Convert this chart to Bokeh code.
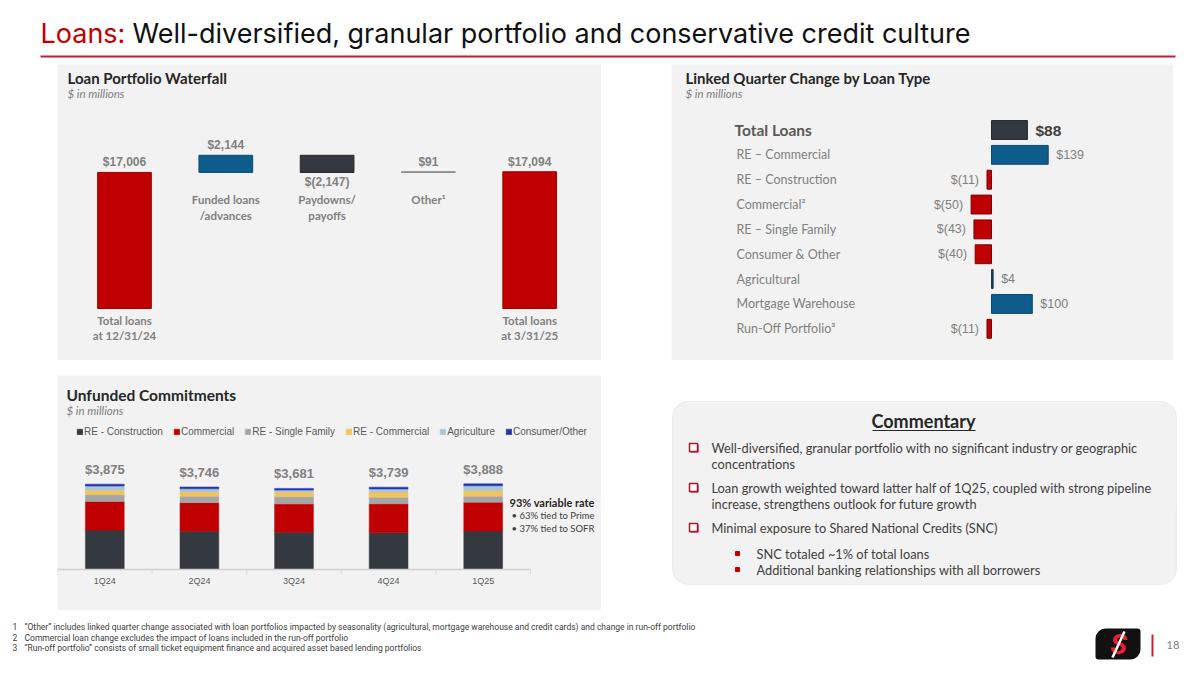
from bokeh.plotting import figure
from bokeh.layouts import column, row
from bokeh.models import (Spacer, Range1d, Label, Legend, LegendItem, BoxAnnotation,
                          ColumnDataSource)
from bokeh.core.properties import value
from bokeh.embed import file_html
from bokeh.resources import INLINE

# ---------------- data ----------------
wf_steps = ["Total loans\nat 12/31/24", "Funded loans\n/advances", "Paydowns/\npayoffs",
            "Other\u00b9", "Total loans\nat 3/31/25"]
wf_values = [17006, 2144, -2147, 91, 17094]
wf_kinds = ["total", "delta", "delta", "delta", "total"]

lq_types = ["Total Loans", "RE \u2013 Commercial", "RE \u2013 Construction", "Commercial\u00b2",
            "RE \u2013 Single Family", "Consumer & Other", "Agricultural", "Mortgage Warehouse",
            "Run-Off Portfolio\u00b3"]
lq_change = [88, 139, -11, -50, -43, -40, 4, 100, -11]

uc_quarters = ["1Q24", "2Q24", "3Q24", "4Q24", "1Q25"]
uc_series = ["RE - Construction", "Commercial", "RE - Single Family", "RE - Commercial",
             "Agriculture", "Consumer/Other"]
uc_re_construction = [1790, 1735, 1690, 1665, 1750]
uc_commercial = [1300, 1300, 1285, 1315, 1300]
uc_re_single_family = [300, 285, 330, 300, 270]
uc_re_commercial = [210, 210, 210, 240, 255]
uc_agriculture = [190, 135, 90, 135, 225]
uc_consumer_other = [85, 81, 76, 84, 88]
uc_totals = [3875, 3746, 3681, 3739, 3888]

commentary = [
    ("Well-diversified, granular portfolio with no significant industry or geographic", "concentrations"),
    ("Loan growth weighted toward latter half of 1Q25, coupled with strong pipeline", "increase, strengthens outlook for future growth"),
    ("Minimal exposure to Shared National Credits (SNC)", None),
]
commentary_sub = ["SNC totaled ~1% of total loans", "Additional banking relationships with all borrowers"]

footnotes = [
    ("1", "\u201cOther\u201d includes linked quarter change associated with loan portfolios impacted by seasonality (agricultural, mortgage warehouse and credit cards) and change in run-off portfolio"),
    ("2", "Commercial loan change excludes the impact of loans included in the run-off portfolio"),
    ("3", "\u201cRun-off portfolio\u201d consists of small ticket equipment finance and acquired asset based lending portfolios"),
]

# ---------------- styles ----------------
PANEL = "#F2F2F2"
RED = "#C00000"
BLUE = "#0E5C8C"
DARK = "#33393E"
NAVY = "#1F3B52"
GREY_TXT = "#7F7F7F"
TITLE_TXT = "#262626"
uc_colors = ["#33393E", "#C00000", "#A5A5A5", "#F2C25C", "#A9C6D4", "#2433B0"]


def fmt_money(v):
    return f"${v:,}" if v >= 0 else f"$({-v:,})"


def blank_fig(w, h, xr, yr, bg="white", **kw):
    p = figure(width=w, height=h, x_range=xr, y_range=yr, title=None, toolbar_location=None,
               output_backend="svg", min_border=0, x_axis_location=None, y_axis_location=None,
               background_fill_color=bg, border_fill_color=bg, outline_line_color=None, **kw)
    p.grid.visible = False
    return p


def txt(p, x, y, s, size, color, font="Lato", style="normal", align="left",
        baseline="middle", **kw):
    p.text(x=[x], y=[y], text=[s], text_font=value(font), text_font_size=f"{size}px",
           text_color=color, text_font_style=style, text_align=align,
           text_baseline=baseline, **kw)


# ---------------- title bar ----------------
tf = blank_fig(1192, 64, Range1d(0, 1192), Range1d(-64, 0))
txt(tf, 40, -33, "Loans:", 27, RED, font="Inter")
txt(tf, 132, -33, "Well-diversified, granular portfolio and conservative credit culture", 27,
    "#111111", font="Inter")
tf.segment(x0=[40], y0=[-56], x1=[1175], y1=[-56], line_color="#B8232A", line_width=2)

# ---------------- waterfall ----------------
WF_L, WF_T, WF_W, WF_H = 57, 64, 544, 296
WF_UNIT, WF_FIRST, WF_ZERO, WF_VPP = 101.3, 124, 308, 125.0
wx0 = -(WF_FIRST - WF_L) / WF_UNIT
wx1 = wx0 + WF_W / WF_UNIT
wy1 = (WF_ZERO - WF_T) * WF_VPP
wy0 = -(WF_T + WF_H - WF_ZERO) * WF_VPP


def wfx(px):
    return wx0 + (px - WF_L) / WF_UNIT


def wfy(py):
    return (WF_ZERO - py) * WF_VPP


wf = blank_fig(WF_W, WF_H, Range1d(wx0, wx1), Range1d(wy0, wy1), bg=PANEL)
bottoms, tops, level = [], [], 0
for v, k in zip(wf_values, wf_kinds):
    if k == "total":
        bottoms.append(0)
        tops.append(v)
        level = v
    else:
        lo, hi = sorted([level, level + v])
        bottoms.append(lo)
        tops.append(hi)
        level += v
wf_x = list(range(len(wf_steps)))
wf_fill = [RED, BLUE, DARK, "#8C8C8C", RED]
wf_line = ["#A00000", "#0A4A72", "#23282C", "#8C8C8C", "#A00000"]
wf.vbar(x="x", bottom="b", top="t", width=0.53, fill_color="f", line_color="l", line_width=1,
        source=ColumnDataSource(dict(x=wf_x, b=bottoms, t=tops, f=wf_fill, l=wf_line)))

up = [i for i, v in enumerate(wf_values) if v >= 0]
dn = [i for i, v in enumerate(wf_values) if v < 0]
wf.text(x=[wf_x[i] for i in up], y=[tops[i] for i in up],
        text=[fmt_money(wf_values[i]) for i in up], text_font=value("Liberation Sans"),
        text_font_size="12px", text_font_style="bold", text_color="#808080",
        text_align="center", text_baseline="bottom", y_offset=-3)
wf.text(x=[wf_x[i] for i in dn], y=[bottoms[i] for i in dn],
        text=[fmt_money(wf_values[i]) for i in dn], text_font=value("Liberation Sans"),
        text_font_size="12px", text_font_style="bold", text_color="#808080",
        text_align="center", text_baseline="top", y_offset=3)
tot = [i for i, k in enumerate(wf_kinds) if k == "total"]
dl = [i for i, k in enumerate(wf_kinds) if k == "delta"]
wf.text(x=[wf_x[i] for i in tot], y=[0 for i in tot], text=[wf_steps[i] for i in tot],
        text_font=value("Lato"), text_font_size="11.5px", text_font_style="bold",
        text_color="#808080", text_align="center", text_baseline="top", y_offset=5,
        text_line_height=1.2)
delta_anchor = min(bottoms[i] for i in dl)
wf.text(x=[wf_x[i] for i in dl], y=[delta_anchor for i in dl], text=[wf_steps[i] for i in dl],
        text_font=value("Lato"), text_font_size="11.5px", text_font_style="bold",
        text_color="#808080", text_align="center", text_baseline="top", y_offset=21,
        text_line_height=1.2)
txt(wf, wfx(67), wfy(77), "Loan Portfolio Waterfall", 15, TITLE_TXT, style="bold")
txt(wf, wfx(67), wfy(93), "$ in millions", 11.5, GREY_TXT, style="italic")

# ---------------- linked quarter change ----------------
LQ_L, LQ_T, LQ_W, LQ_H = 671, 64, 502, 296
LQ_ZERO, LQ_VPP, LQ_ROW0, LQ_ROWH = 991, 2.451, 129.5, 24.85
lx0 = -(LQ_ZERO - LQ_L) * LQ_VPP
lx1 = lx0 + LQ_W * LQ_VPP


def lqx(px):
    return (px - LQ_ZERO) * LQ_VPP


def lqy(py):
    return (py - LQ_ROW0) / LQ_ROWH


lq = blank_fig(LQ_W, LQ_H, Range1d(lx0, lx1),
               Range1d(lqy(LQ_T + LQ_H), lqy(LQ_T)), bg=PANEL)
lq_y = list(range(len(lq_types)))
lq_fill, lq_line = [], []
for i, v in enumerate(lq_change):
    if i == 0:
        lq_fill.append(DARK); lq_line.append("#23282C")
    elif v < 0:
        lq_fill.append(RED); lq_line.append("#7A0000")
    elif v < 10:
        lq_fill.append(NAVY); lq_line.append(NAVY)
    else:
        lq_fill.append(BLUE); lq_line.append("#0A4A72")
lq.hbar(y="y", left="l", right="r", height=0.76, fill_color="f", line_color="c", line_width=1,
        source=ColumnDataSource(dict(y=lq_y, l=[min(0, v) for v in lq_change],
                                     r=[max(0, v) for v in lq_change], f=lq_fill, c=lq_line)))
txt(lq, lqx(734), 0, lq_types[0], 15.5, "#595959", style="bold")
lq.text(x=[lqx(736)] * (len(lq_types) - 1), y=lq_y[1:], text=lq_types[1:],
        text_font=value("Lato"), text_font_size="12.5px", text_color="#7F7F7F",
        text_align="left", text_baseline="middle")
pos = [i for i, v in enumerate(lq_change) if v >= 0 and i > 0]
neg = [i for i, v in enumerate(lq_change) if v < 0]
txt(lq, lq_change[0], 0, fmt_money(lq_change[0]), 15.5, "#404040", font="Liberation Sans",
    style="bold", x_offset=8)
lq.text(x=[lq_change[i] for i in pos], y=[lq_y[i] for i in pos],
        text=[fmt_money(lq_change[i]) for i in pos], text_font=value("Liberation Sans"),
        text_font_size="12.5px", text_color="#7F7F7F", text_align="left",
        text_baseline="middle", x_offset=8)
lq.text(x=[lq_change[i] for i in neg], y=[lq_y[i] for i in neg],
        text=[fmt_money(lq_change[i]) for i in neg], text_font=value("Liberation Sans"),
        text_font_size="12.5px", text_color="#7F7F7F", text_align="right",
        text_baseline="middle", x_offset=-8)
txt(lq, lqx(685), lqy(77), "Linked Quarter Change by Loan Type", 15, TITLE_TXT, style="bold")
txt(lq, lqx(685), lqy(93), "$ in millions", 11.5, GREY_TXT, style="italic")

# ---------------- unfunded commitments ----------------
UC_L, UC_T, UC_W, UC_H = 57, 375, 544, 235
UC_BASE, UC_VPP, UC_CAT, UC_FIRST = 569, 45.4, 94.6, 104.3
ux0 = -(UC_FIRST - UC_L) / UC_CAT
ux1 = ux0 + UC_W / UC_CAT


def ucx(px):
    return ux0 + (px - UC_L) / UC_CAT


def ucy(py):
    return (UC_BASE - py) * UC_VPP


uc = blank_fig(UC_W, UC_H, Range1d(ux0, ux1),
               Range1d(ucy(UC_T + UC_H), ucy(UC_T)), bg=PANEL)
uc_x = list(range(len(uc_quarters)))
uc_keys = ["c1", "c2", "c3", "c4", "c5", "c6"]
uc_src = ColumnDataSource(dict(x=uc_x, c1=uc_re_construction, c2=uc_commercial,
                               c3=uc_re_single_family, c4=uc_re_commercial,
                               c5=uc_agriculture, c6=uc_consumer_other))
uc_rs = uc.vbar_stack(uc_keys, x="x", width=0.41, fill_color=uc_colors, line_color=uc_colors,
                      line_width=0.5, source=uc_src)
# category axis: baseline, separators and quarter labels
bounds = [uc_x[0] - 0.5 + i for i in range(len(uc_x) + 1)]
uc.segment(x0=[bounds[0]], y0=[0], x1=[bounds[-1]], y1=[0], line_color="#D0D0D0",
           line_width=1.5)
uc.segment(x0=bounds, y0=[0] * len(bounds), x1=bounds, y1=[-5 * UC_VPP] * len(bounds),
           line_color="#D9D9D9", line_width=1)
uc.text(x=uc_x, y=[0] * len(uc_x), text=uc_quarters, text_font=value("Liberation Sans"),
        text_font_size="9px", text_color="#595959", text_align="center",
        text_baseline="top", y_offset=6)
uc.text(x=uc_x, y=uc_totals, text=[fmt_money(v) for v in uc_totals],
        text_font=value("Liberation Sans"), text_font_size="13px", text_font_style="bold",
        text_color="#808080", text_align="center", text_baseline="bottom", y_offset=-7)
legend = Legend(items=[LegendItem(label=n, renderers=[r]) for n, r in zip(uc_series, uc_rs)],
                orientation="horizontal", location=(19, 173), glyph_width=7, glyph_height=7,
                label_standoff=1, spacing=10, padding=0, margin=0, label_height=12,
                label_width=10, border_line_color=None, background_fill_alpha=0,
                label_text_font="Liberation Sans", label_text_font_size="10px",
                label_text_color="#595959")
uc.add_layout(legend)
uc.add_layout(Label(x=ucx(66), y=ucy(394), text="Unfunded Commitments", text_font="Lato",
                    text_font_size="15.5px", text_font_style="bold", text_color=TITLE_TXT,
                    text_baseline="middle"))
uc.add_layout(Label(x=ucx(66), y=ucy(410), text="$ in millions", text_font="Lato",
                    text_font_size="11.5px", text_font_style="italic", text_color=GREY_TXT,
                    text_baseline="middle"))
uc.add_layout(Label(x=ucx(509), y=ucy(502), text="93% variable rate", text_font="Lato",
                    text_font_size="11px", text_font_style="bold", text_color=TITLE_TXT,
                    text_baseline="middle"))
uc.add_layout(Label(x=ucx(511), y=ucy(515), text="\u2022   63% tied to Prime", text_font="Lato",
                    text_font_size="9.5px", text_color="#404040", text_baseline="middle"))
uc.add_layout(Label(x=ucx(511), y=ucy(528), text="\u2022   37% tied to SOFR", text_font="Lato",
                    text_font_size="9.5px", text_color="#404040", text_baseline="middle"))

# ---------------- commentary ----------------
cm = blank_fig(506, 235, Range1d(671, 1177), Range1d(-610, -375))
cm.add_layout(BoxAnnotation(left=672, right=1176, top=-401, bottom=-584, fill_color=PANEL,
                            fill_alpha=1, line_color="#D4D4D4", line_width=1.2,
                            border_radius=16, level="underlay"))
txt(cm, 923, -420, "Commentary", 18, TITLE_TXT, style="bold", align="center")
cm.segment(x0=[872], y0=[-430], x1=[975], y1=[-430], line_color=TITLE_TXT, line_width=1.2)
line_y = [(447, 463), (487, 503), (527, None)]
for (a, b), (ya, yb) in zip(commentary, line_y):
    cm.scatter(x=[694], y=[-ya - 1], marker="square", size=8, fill_color="#6E0A0E",
               line_color=None)
    cm.scatter(x=[693], y=[-ya], marker="square", size=8, fill_color="white",
               line_color="#B0141C", line_width=1.5)
    txt(cm, 711, -ya, a, 12.8, "#404040")
    if b:
        txt(cm, 711, -yb, b, 12.8, "#404040")
for s, ys in zip(commentary_sub, [553, 569]):
    cm.scatter(x=[737], y=[-ys], marker="square", size=4, fill_color="#C00000",
               line_color="#C00000")
    txt(cm, 756, -ys, s, 12.8, "#404040")

# ---------------- footer ----------------
ft = blank_fig(1192, 64, Range1d(0, 1192), Range1d(-674, -610))
for (n, s), yy in zip(footnotes, [626, 637, 647]):
    txt(ft, 12, -yy, n, 8.5, "#404040", font="Roboto")
    txt(ft, 24, -yy, s, 8.5, "#404040", font="Roboto")
ft.add_layout(BoxAnnotation(left=1095, right=1140, top=-628, bottom=-659, fill_color="#111111",
                            fill_alpha=1, line_color=None, border_radius=(10, 3, 10, 3),
                            level="underlay"))
txt(ft, 1118, -644, "S", 28, "#E8202A", font="Roboto", style="bold italic", align="center")
ft.segment(x0=[1112], y0=[-657], x1=[1124], y1=[-631], line_color="white", line_width=2.5)
ft.segment(x0=[1152], y0=[-634], x1=[1152], y1=[-656], line_color="#C0272D", line_width=2)
txt(ft, 1166, -644, "18", 11, "#7F7F7F")

# ---------------- layout ----------------
layout = column(
    tf,
    row(Spacer(width=57, height=296), wf, Spacer(width=70, height=296), lq),
    Spacer(width=1192, height=15),
    row(Spacer(width=57, height=235), uc, Spacer(width=70, height=235), cm),
    ft,
)

open("out.html", "w").write(file_html(layout, INLINE))
